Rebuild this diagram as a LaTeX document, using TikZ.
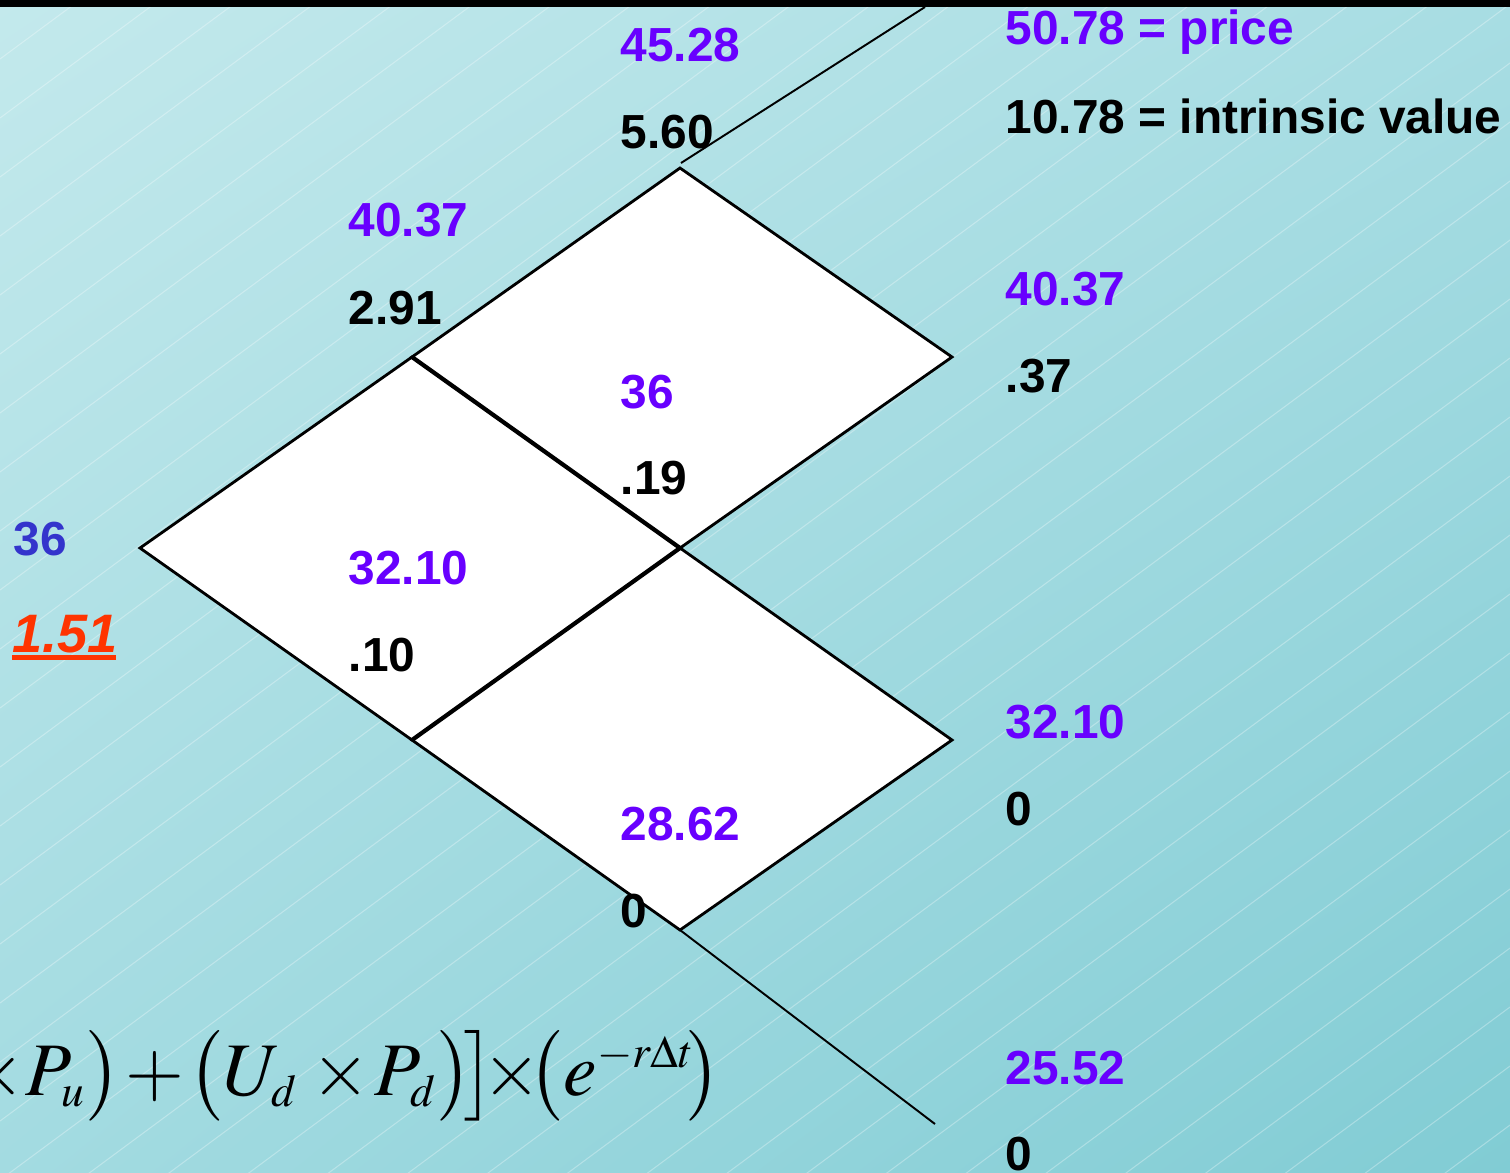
\documentclass[tikz,border=0pt]{standalone}
\usepackage{mathptmx}
\usepackage[no-math]{fontspec}
\newfontfamily\lblfont{Liberation Sans}
\usetikzlibrary{positioning,shadings}
\definecolor{bgtl}{RGB}{195,233,236}
\definecolor{bgtr}{RGB}{168,221,227}
\definecolor{bgbl}{RGB}{163,219,225}
\definecolor{bgbr}{RGB}{129,204,212}
\definecolor{pval}{RGB}{104,0,255}
\definecolor{sval}{RGB}{52,52,204}
\definecolor{oval}{RGB}{255,52,0}
\tikzset{
  lbl/.style={anchor=base west,inner sep=0pt,font=\lblfont\bfseries\fontsize{13.6}{16}\selectfont},
  stock/.style={lbl,text=pval},
  opval/.style={lbl,text=black},
  cell/.style={fill=white,draw=black,line width=0.8pt,line join=miter},
  mid/.style={line width=1.2pt},
  tail/.style={line width=0.55pt},
  hatch/.style={white,opacity=0.3,line width=0.3pt},
}
\newcommand{\ssub}[1]{_{\scriptscriptstyle #1}}
\begin{document}
\begin{tikzpicture}[x=0.01cm,y=-0.01cm]
  \useasboundingbox (0,0) rectangle (1510,1172);
  % background
  \shade[upper left=bgtl,upper right=bgtr,lower left=bgbl,lower right=bgbr]
    (0,0) rectangle (1510,1172);
  \begin{scope}
    \clip (0,7) rectangle (1510,1172);
    \foreach \c in {0,59,...,2300}{
      \draw[hatch] (0,\c) -- (1510,\c-1117);
    }
  \end{scope}
  \fill[black] (0,0) rectangle (1510,7);
  % lattice points
  \coordinate (s0) at (140,548);
  \coordinate (u1) at (412,357);
  \coordinate (d1) at (412,740);
  \coordinate (uu) at (680,168);
  \coordinate (ud) at (680,548);
  \coordinate (dd) at (680,930);
  \coordinate (uur) at (952,357);
  \coordinate (ddr) at (952,740);
  \coordinate (top) at (925,7);
  \coordinate (bot) at (935,1124);
  % white cells
  \draw[cell] (s0) -- (u1) -- (ud) -- (d1) -- cycle;
  \draw[cell] (u1) -- (uu) -- (uur) -- (ud) -- cycle;
  \draw[cell] (d1) -- (ud) -- (ddr) -- (dd) -- cycle;
  \draw[mid] (u1) -- (ud) -- (d1);
  \draw[tail] (681,163) -- (top);
  \draw[tail] (dd) -- (bot);
  % node values
  \node[stock] (n45) at (620,61) {45.28};
  \node[opval] (o45) at (620,148) {5.60};
  \node[stock] (n40) at (348,236) {40.37};
  \node[opval] (o40) at (348,324) {2.91};
  \node[stock] (n36) at (620,408) {36};
  \node[opval] (o36) at (620,494) {.19};
  \node[lbl,text=sval] (s36) at (13,555) {36};
  \node[lbl,text=oval,font=\lblfont\bfseries\itshape\fontsize{15.4}{18}\selectfont] (c36) at (12,652) {1.51};
  \fill[oval] (12,655) rectangle (116,660);
  \node[stock] (n32) at (348,584) {32.10};
  \node[opval] (o32) at (348,671) {.10};
  \node[stock] (n28) at (620,840) {28.62};
  \node[opval] (o28) at (620,927) {0};
  % terminal values
  \node[stock] (t50) at (1005,44) {50.78 = price};
  \node[opval] (p50) at (1005,133) {10.78 = intrinsic value};
  \node[stock] (t40) at (1005,305) {40.37};
  \node[opval] (p40) at (1005,392) {.37};
  \node[stock] (t32) at (1005,738) {32.10};
  \node[opval] (p32) at (1005,825) {0};
  \node[stock] (t25) at (1005,1084) {25.52};
  \node[opval] (p25) at (1005,1170) {0};
  % discounting formula
  \node[anchor=base east,inner sep=0pt,font=\fontsize{21.5}{25}\selectfont] (fml) at (722,1095)
    {\medmuskip=1mu $\times P\ssub{u}\big)+\big(U\ssub{d}\,\times P\ssub{d}\big)\!\big]\!\!\times\!\!\big(e^{\scriptscriptstyle -r\Delta t}\!\big)$};
\end{tikzpicture}
\end{document}
